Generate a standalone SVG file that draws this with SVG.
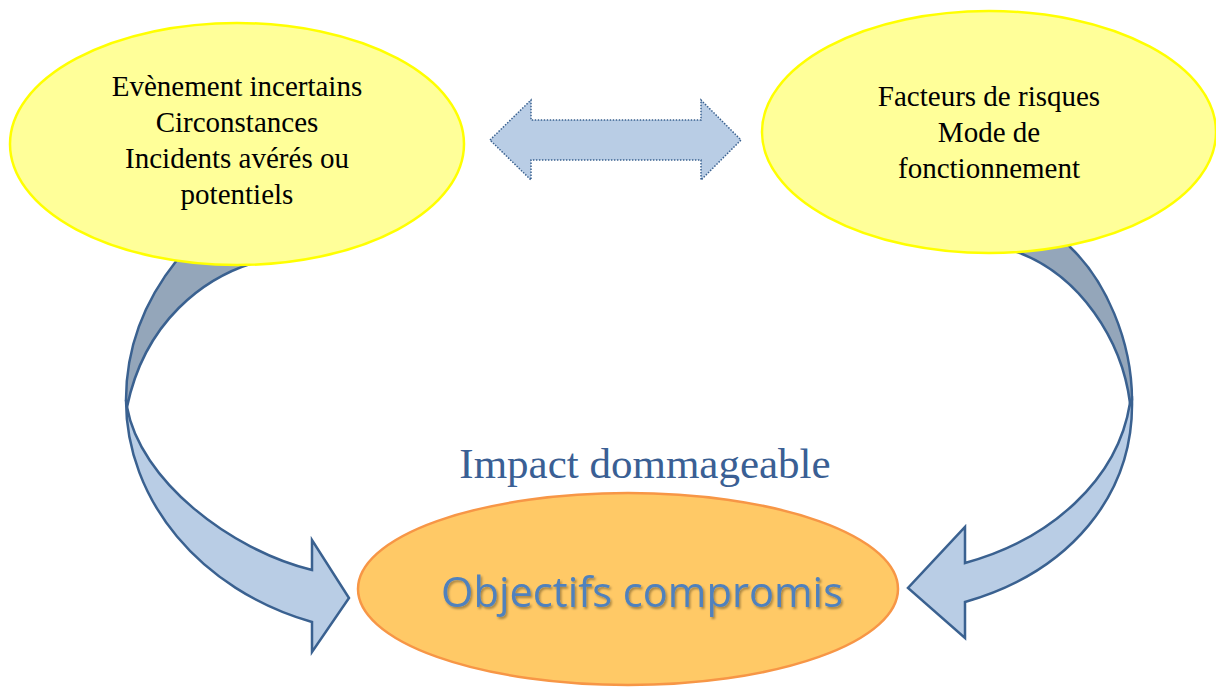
<svg xmlns="http://www.w3.org/2000/svg" width="1216" height="687" viewBox="0 0 1216 687">
<style>
.back{fill:#94A6BA;stroke:#3A6190;stroke-width:2.5;stroke-linejoin:round}
.front{fill:#B9CDE5;stroke:#3A6190;stroke-width:2.5;stroke-linejoin:miter}
.yel{fill:#FFFF99;stroke:#FFFF00;stroke-width:2.5}
.t{font-family:"Liberation Serif","Times New Roman",serif;font-size:29px;fill:#000;text-anchor:middle}
</style>
<defs>
<filter id="sh" x="-10%" y="-30%" width="120%" height="160%">
<feDropShadow dx="1.5" dy="2" stdDeviation="1.2" flood-color="#000" flood-opacity="0.35"/>
</filter>
</defs>
<rect width="1216" height="687" fill="#FFFFFF"/>
<g id="connectors">
<g id="arrow-left">
<path class="back" d="M177,260 C145,300 126,345 126,400 L127,407 C145,320 205,278 253,263 L250,245 L185,245 Z"/>
<path class="front" d="M126,400 C126,500 200,590 312,622 L312,652 L349,598 L312,540 L312,570 C230,550 140,480 127,407 Z"/>
</g>
<g id="arrow-right">
<path class="back" d="M1070,247 C1105,280 1132,340 1132,400 L1130,403 C1122,340 1080,275 1017,252 L1010,235 L1060,235 Z"/>
<path class="front" d="M1132,400 C1134,495 1070,572 965,602 L965,638 L908,588 L965,527 L965,563 C1050,540 1118,480 1130,403 Z"/>
</g>
<g id="arrow-double">
<path d="M490,140 L531,100 L531,120 L701,120 L701,100 L741,140 L701,180 L701,160 L531,160 L531,180 Z" fill="#B9CDE5" stroke="#3A6190" stroke-width="1.5" stroke-dasharray="1.5 1.5"/>
</g>
</g>
<g id="node-left">
<ellipse class="yel" cx="237" cy="144" rx="227" ry="121"/>
<text class="t" x="237" y="96">Evènement incertains</text>
<text class="t" x="237" y="132">Circonstances</text>
<text class="t" x="237" y="168">Incidents avérés ou</text>
<text class="t" x="237" y="204">potentiels</text>
</g>
<g id="node-right">
<ellipse class="yel" cx="989" cy="132" rx="227" ry="121"/>
<text class="t" x="989" y="106">Facteurs de risques</text>
<text class="t" x="989" y="142">Mode de</text>
<text class="t" x="989" y="178">fonctionnement</text>
</g>
<g id="label-impact">
<text x="645" y="478" font-family="Liberation Serif, Times New Roman, serif" font-size="43" fill="#3A5F94" text-anchor="middle">Impact dommageable</text>
</g>
<g id="node-bottom">
<ellipse cx="628" cy="589" rx="270" ry="96" fill="#FFC966" stroke="#F79646" stroke-width="2.5"/>
<text x="642" y="607" font-family="Open Sans, Liberation Sans, sans-serif" font-size="42" fill="#4F81BD" text-anchor="middle" textLength="402" lengthAdjust="spacingAndGlyphs" filter="url(#sh)">Objectifs compromis</text>
</g>
</svg>
